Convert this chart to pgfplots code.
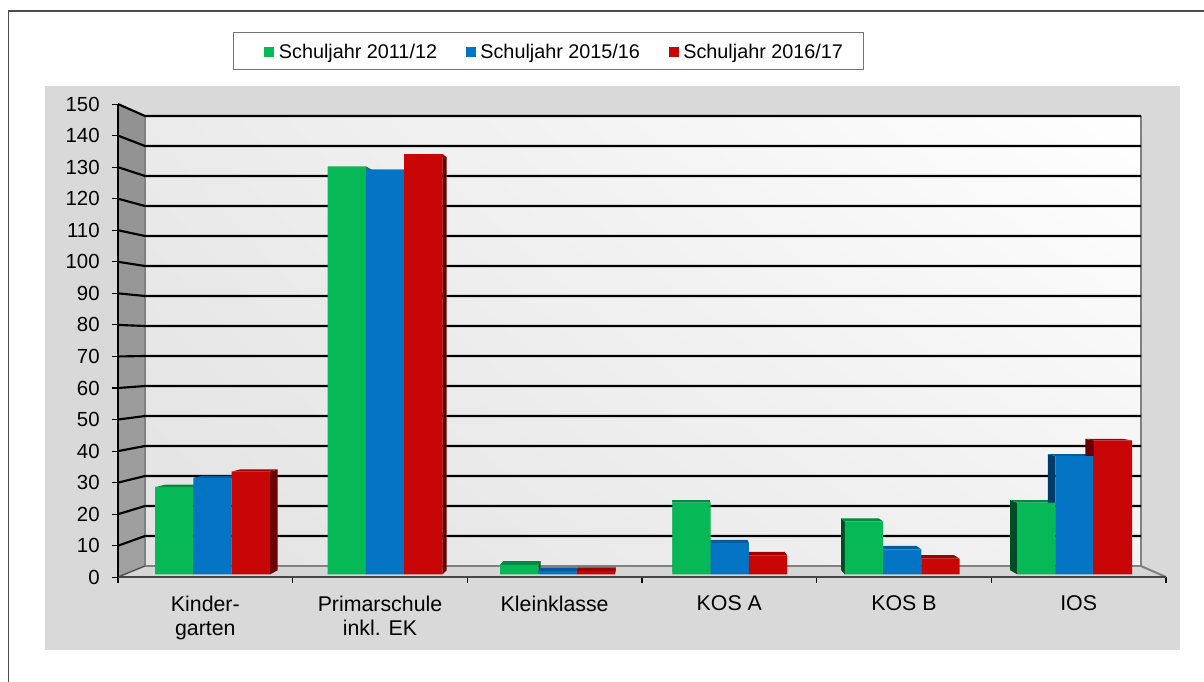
\documentclass[border=0pt]{standalone}
\usepackage{fontspec}
\setmainfont{Liberation Sans}
\usepackage{pgfplots}
\usetikzlibrary{shadings}
\pgfplotsset{compat=1.18}
\definecolor{cg}{HTML}{06B856}
\definecolor{cb}{HTML}{0474C4}
\definecolor{cr}{HTML}{C80606}
\definecolor{tg}{HTML}{008C40}
\definecolor{tb}{HTML}{005E9E}
\definecolor{tr}{HTML}{A00000}
\definecolor{sg}{HTML}{004D25}
\definecolor{sb}{HTML}{003A66}
\definecolor{sr}{HTML}{6A0004}
\pgfplotsset{
  frontbar/.style={ybar,bar width=28.7pt,draw=none,
    legend image code/.code={\fill[##1] (0pt,-3.75pt) rectangle (7.5pt,3.75pt);\path (0pt,0pt) -- (9pt,0pt);}},
}
% depth faces of one bar: group, series(-1,0,1), value, side colour, top colour
\newcommand{\barfaces}[5]{%
  \pgfmathsetmacro\xl{212.6+172.4*#1+(#2-0.5)*38.3}%
  \pgfmathsetmacro\xr{\xl+38.3}%
  \pgfmathsetmacro\xlb{\xl+0.0195*(662-\xl)}%
  \pgfmathsetmacro\xrb{\xr+0.0195*(662-\xr)}%
  \pgfmathsetmacro\yt{574.3-3.113*#3}%
  \pgfmathsetmacro\ytb{\yt+0.018*(353-\yt)}%
  \pgfmathsetmacro\ybb{574.3+0.018*(353-574.3)}%
  \pgfmathsetmacro\Xl{(\xl-212.6)/172.4}\pgfmathsetmacro\Xr{(\xr-212.6)/172.4}%
  \pgfmathsetmacro\Xlb{(\xlb-212.6)/172.4}\pgfmathsetmacro\Xrb{(\xrb-212.6)/172.4}%
  \pgfmathsetmacro\Vtb{(574.3-\ytb)/3.113}\pgfmathsetmacro\Vbb{(574.3-\ybb)/3.113}%
  \pgfmathparse{#1<2.5?1:0}%
  \ifnum\pgfmathresult>0
    \edef\temp{\noexpand\addplot[forget plot,draw=none,fill=#4] coordinates {(\Xr,0) (\Xr,#3) (\Xrb,\Vtb) (\Xrb,\Vbb)} --cycle;}\temp
  \else
    \edef\temp{\noexpand\addplot[forget plot,draw=none,fill=#4] coordinates {(\Xl,0) (\Xl,#3) (\Xlb,\Vtb) (\Xlb,\Vbb)} --cycle;}\temp
  \fi
  \edef\temp{\noexpand\addplot[forget plot,draw=none,fill=#5] coordinates {(\Xl,#3) (\Xr,#3) (\Xrb,\Vtb) (\Xlb,\Vtb)} --cycle;}\temp
}
\begin{document}
\begin{tikzpicture}
\useasboundingbox (0,0) rectangle (903pt,-511.5pt);
\begin{scope}[x=0.75pt,y=-0.75pt]
  \fill[white] (0,0) rectangle (1204,682);
  \draw[color=black!70,line width=1.1pt] (8.5,682) -- (8.5,11) -- (1204,11);
  \draw[black!55,line width=0.7pt] (233.5,32.5) rectangle (863,69);
  \fill[black!15] (45,86) rectangle (1180,650);
  % back wall
  \shade[lower left=black!11,upper right=white,upper left=black!8,lower right=black!5] (145,116) rectangle (1141,566);
  % side wall
  \shade[top color=black!43,bottom color=black!37] (118,104) -- (145,116) -- (145,566) -- (118,577) -- cycle;
  % floor
  \fill[black!16] (118,577) -- (145,566) -- (1141,566) -- (1166,577) -- cycle;
  \draw[black!50,line width=1.5pt] (145,116) -- (145,566) -- (1141,566) -- (1141,116);
  \draw[black!50,line width=1.5pt] (1141,566) -- (1166,577);
  \draw[black!70,line width=1pt] (118,577) -- (145,566);
  % grid lines on side wall and back wall
  \foreach \v in {10,20,...,150}{
    \draw[black,line width=1.6pt] (118,{577.3-3.155*\v}) -- (145,{566-3*\v}) -- (1141,{566-3*\v});
  }
\end{scope}
% front plane: the scale and the categories
\begin{axis}[
  at={(88.5pt,-432.975pt)},anchor=origin,
  scale only axis,width=786pt,height=354.9pt,
  xmin=0,xmax=6,ymin=0,ymax=150,
  axis x line=bottom,axis y line=left,
  x axis line style={draw=black!72,line width=1.5pt,-},
  y axis line style={draw=black,line width=1.5pt,-},
  xtick={0,1,2,3,4,5,6},
  x tick label as interval,
  xticklabels={{Kinder-\\garten},{Primarschule\\inkl. EK},{Kleinklasse},{KOS A},{KOS B},{IOS}},
  xticklabel style={align=center,font=\fontsize{16}{18}\selectfont,yshift=-6pt,anchor=north,
    text depth=0pt},
  ytick={0,10,...,150},
  yticklabel style={font=\fontsize{15.3}{18}\selectfont,xshift=-6pt},
  /pgf/number format/assume math mode=true,
  /pgf/number format/1000 sep={},
  tick align=outside,
  major tick length=4.2pt,
  tick style={black,line width=0.8pt},
]
\end{axis}
% bar plane
\begin{axis}[
  at={(94.8pt,-430.725pt)},anchor=south west,
  scale only axis,width=775.8pt,height=350.2pt,
  xmin=-0.5,xmax=5.5,ymin=0,ymax=150,
  hide axis,clip=false,
  legend columns=3,
  legend style={at={(0.1330,1.1186)},anchor=west,draw=none,fill=none,
    font=\fontsize{14.85}{18}\selectfont,inner xsep=0pt,inner ysep=0pt,
    /tikz/every even column/.append style={column sep=19.5pt}},
]
\barfaces{0}{-1}{28}{sg}{tg}\barfaces{0}{0}{31}{sb}{tb}\barfaces{0}{1}{33}{sr}{tr}
\barfaces{1}{-1}{131}{sg}{tg}\barfaces{1}{0}{130}{sb}{tb}\barfaces{1}{1}{135}{sr}{tr}
\barfaces{2}{-1}{3}{sg}{tg}\barfaces{2}{0}{1}{sb}{tb}\barfaces{2}{1}{1}{sr}{tr}
\barfaces{3}{-1}{23}{sg}{tg}\barfaces{3}{0}{10}{sb}{tb}\barfaces{3}{1}{6}{sr}{tr}
\barfaces{4}{-1}{17}{sg}{tg}\barfaces{4}{0}{8}{sb}{tb}\barfaces{4}{1}{5}{sr}{tr}
\barfaces{5}{-1}{23}{sg}{tg}\barfaces{5}{0}{38}{sb}{tb}\barfaces{5}{1}{43}{sr}{tr}
\addplot[frontbar,fill=cg,bar shift=-28.7pt] coordinates {(0,28) (1,131) (2,3) (3,23) (4,17) (5,23)};
\addlegendentry{Schuljahr 2011/12}
\addplot[frontbar,fill=cb,bar shift=0pt] coordinates {(0,31) (1,130) (2,1) (3,10) (4,8) (5,38)};
\addlegendentry{Schuljahr 2015/16}
\addplot[frontbar,fill=cr,bar shift=28.7pt] coordinates {(0,33) (1,135) (2,1) (3,6) (4,5) (5,43)};
\addlegendentry{Schuljahr 2016/17}
\end{axis}
\end{tikzpicture}
\end{document}
